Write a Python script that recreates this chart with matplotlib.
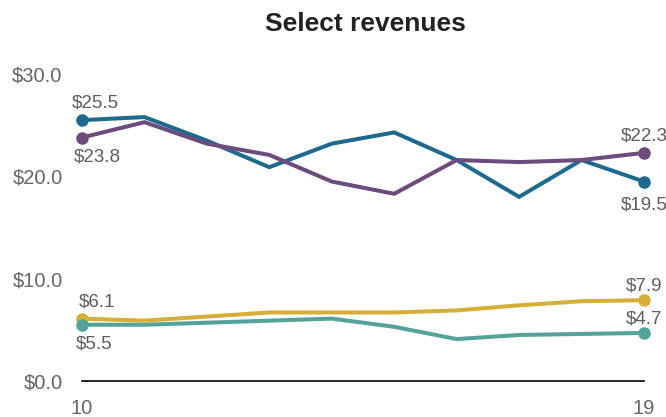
"""Select revenues line chart."""
import matplotlib
matplotlib.use("Agg")
import matplotlib.pyplot as plt

plt.rcParams['font.family'] = ['Liberation Sans', 'DejaVu Sans']

# Data
years = [10, 11, 12, 13, 14, 15, 16, 17, 18, 19]
blue_vals = [25.5, 25.8, 23.5, 20.9, 23.2, 24.3, 21.6, 18.0, 21.6, 19.5]
purple_vals = [23.8, 25.3, 23.2, 22.1, 19.5, 18.3, 21.6, 21.4, 21.6, 22.3]
gold_vals = [6.1, 5.9, 6.3, 6.7, 6.7, 6.7, 6.9, 7.4, 7.8, 7.9]
teal_vals = [5.5, 5.5, 5.7, 5.9, 6.1, 5.3, 4.1, 4.5, 4.6, 4.7]
y_ticks = [0, 10, 20, 30]
x_ticks = [10, 19]

series = [
    (blue_vals, '#1d6a8f'),
    (purple_vals, '#6c4b7d'),
    (gold_vals, '#d6af38'),
    (teal_vals, '#53a39b'),
]

# label offsets (points) for start / end values: (dx, dy)
start_offsets = [(10, 12), (11, -14), (11, 12), (9, -14)]
end_offsets = [(0, -17), (0, 12), (0, 10), (0, 10)]

fig = plt.figure(figsize=(6.66, 4.17), dpi=100)
ax = fig.add_axes([0.1231, 0.0863, 0.8438, 0.736])

for (vals, color), s_off, e_off in zip(series, start_offsets, end_offsets):
    ax.plot(years, vals, color=color, linewidth=2.9, clip_on=False,
            solid_joinstyle='miter', zorder=3)
    ax.plot([years[0], years[-1]], [vals[0], vals[-1]], 'o', color=color,
            markersize=8, clip_on=False, zorder=4)
    ax.annotate(f'${vals[0]:.1f}', (years[0], vals[0]), textcoords='offset points',
                xytext=s_off, ha='center', va='center', fontsize=13.5, color='#5e5e5e')
    ax.annotate(f'${vals[-1]:.1f}', (years[-1], vals[-1]), textcoords='offset points',
                xytext=e_off, ha='center', va='center', fontsize=13.5, color='#5e5e5e')

ax.set_xlim(years[0], years[-1])
ax.set_ylim(0, 30)
ax.set_yticks(y_ticks)
ax.set_yticklabels([f'${v:.1f}' for v in y_ticks])
ax.set_xticks(x_ticks)
ax.set_xticklabels([str(v) for v in x_ticks])
ax.tick_params(axis='both', length=0, labelsize=14.5, labelcolor='#666666')
ax.tick_params(axis='y', pad=14)
ax.tick_params(axis='x', pad=13)

for side in ['top', 'right', 'left']:
    ax.spines[side].set_visible(False)
ax.spines['bottom'].set_color('black')
ax.spines['bottom'].set_linewidth(1.2)

fig.text(0.549, 0.942, 'Select revenues', ha='center', va='center',
         fontsize=19, fontweight='bold', color='#222222')

fig.savefig('out.png', dpi=100)
